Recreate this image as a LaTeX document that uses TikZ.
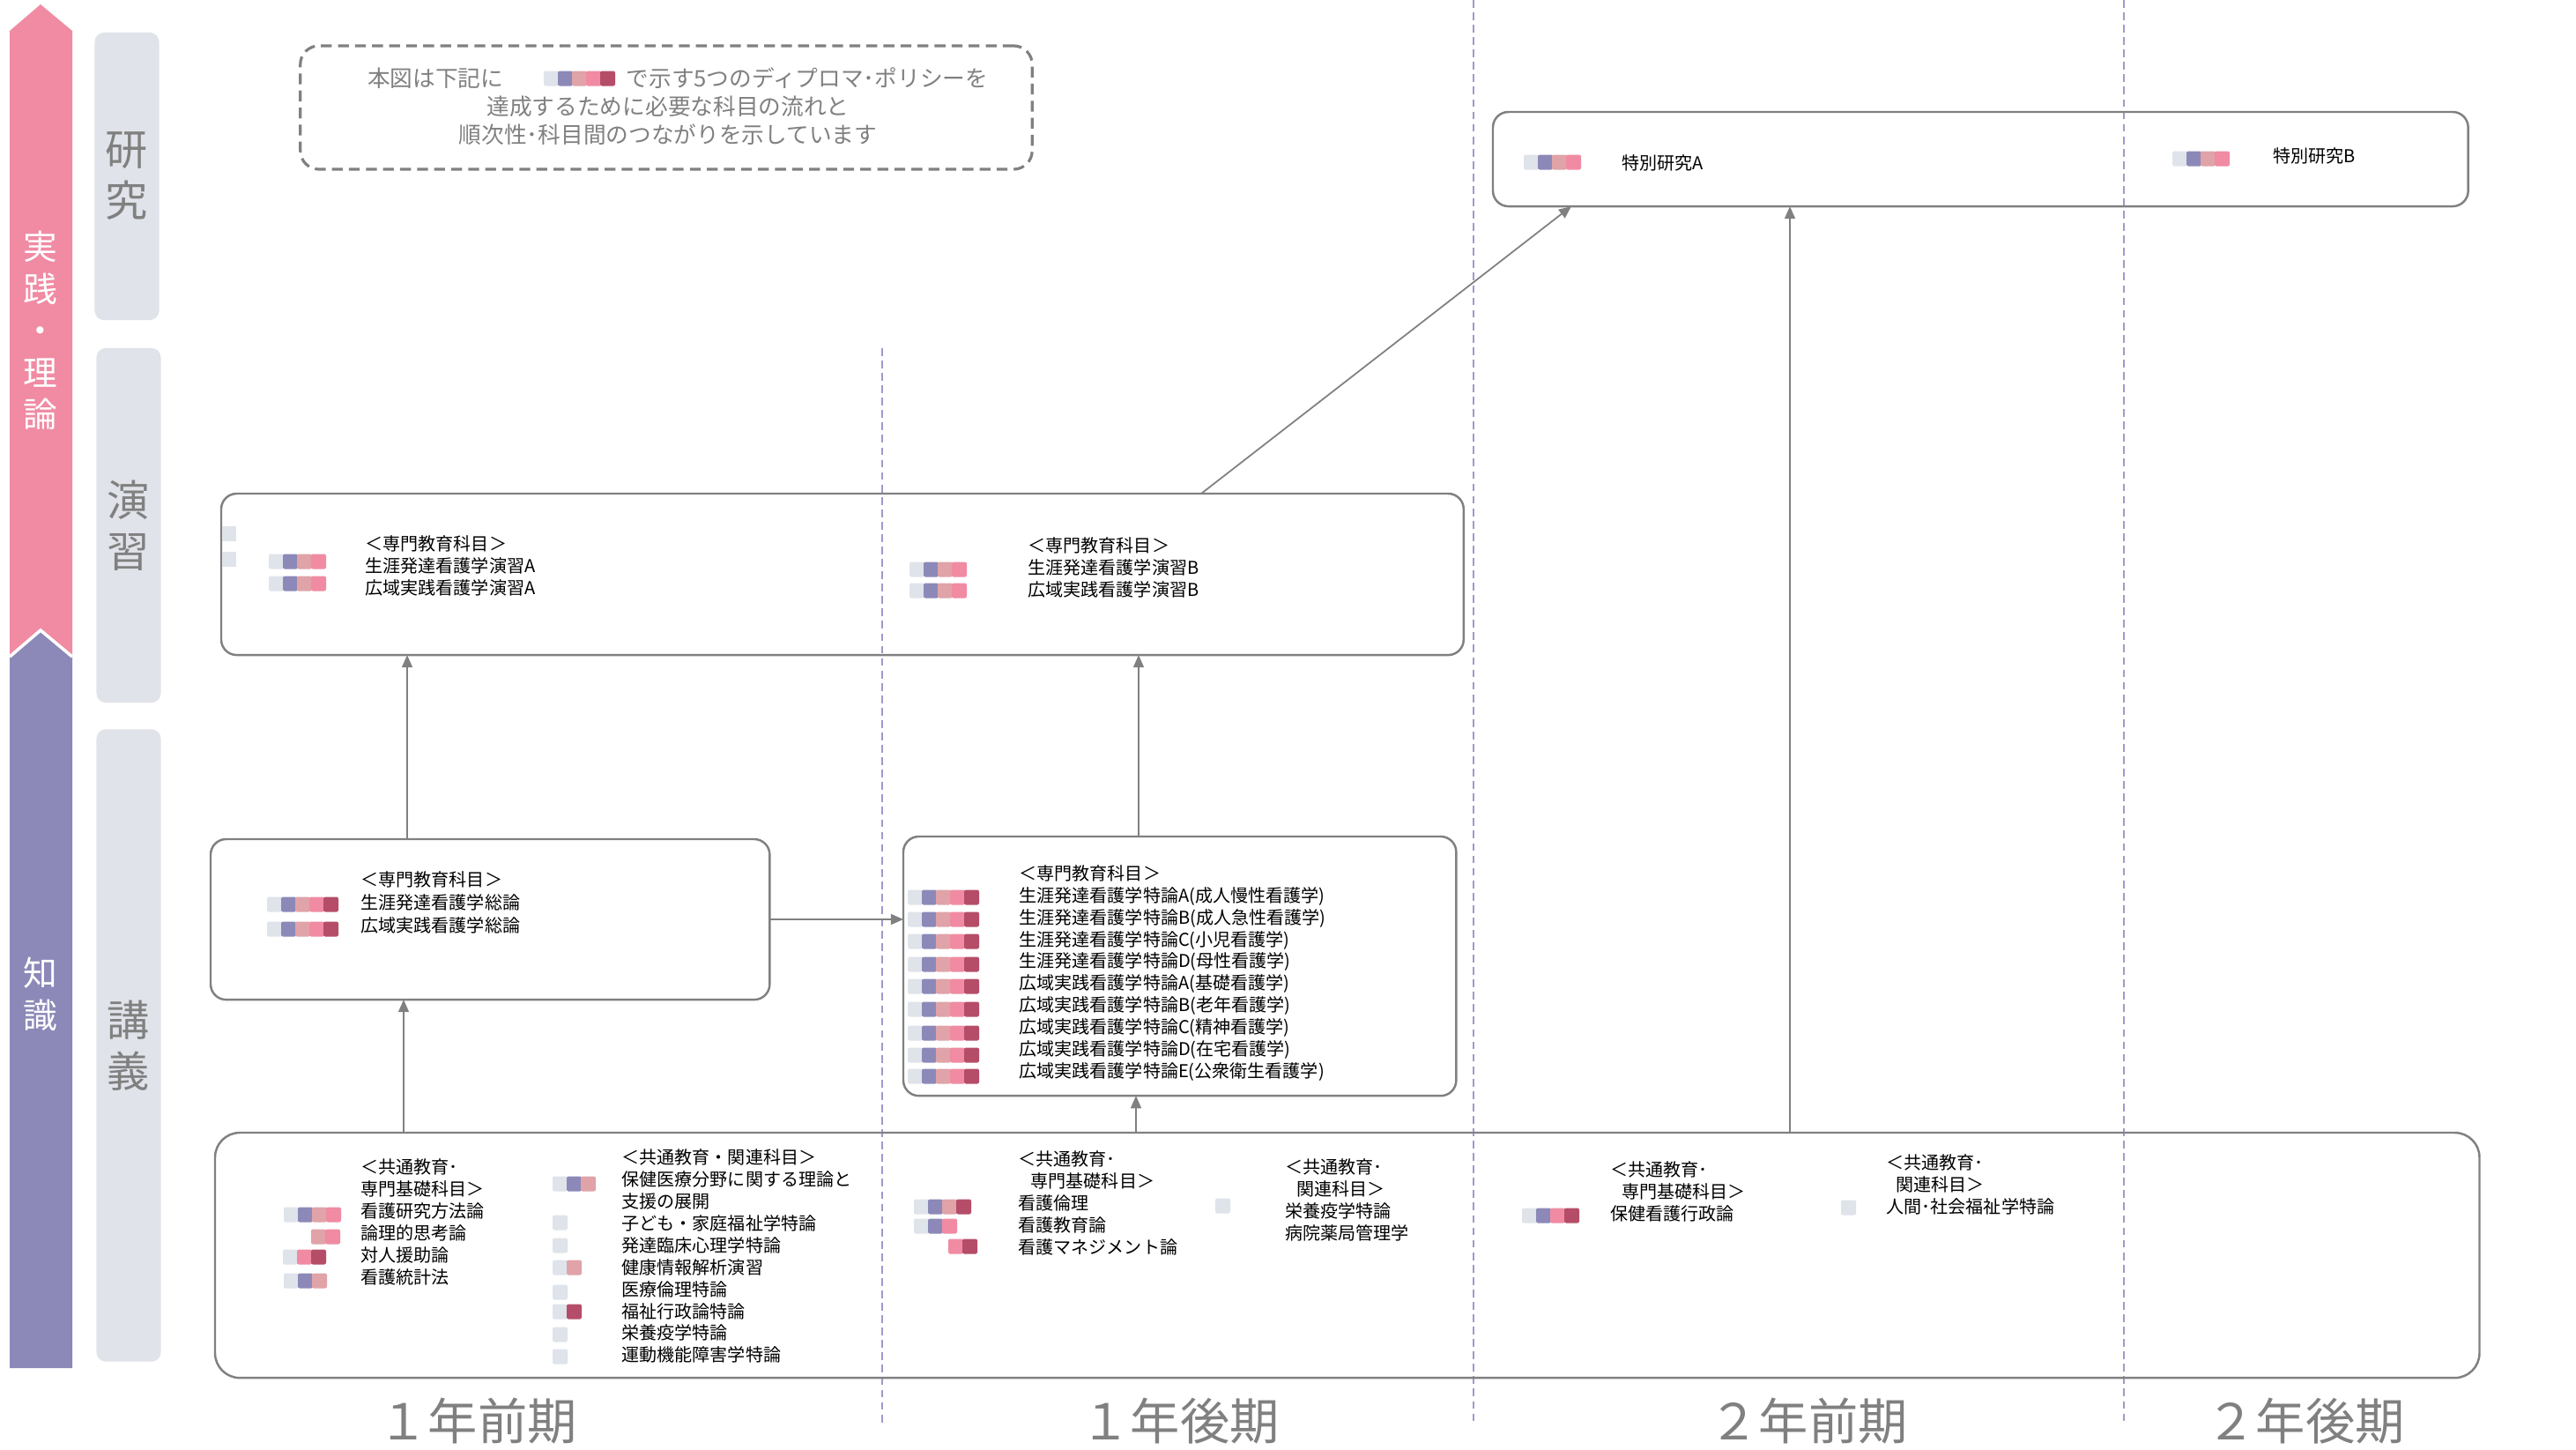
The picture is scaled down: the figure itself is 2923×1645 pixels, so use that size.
\documentclass[tikz,border=0pt]{standalone}
\usepackage{fontspec}
\setmainfont{Noto Sans CJK JP}
\usepackage{tikz}
\usetikzlibrary{arrows.meta}
\usetikzlibrary{positioning}
\definecolor{dpg}{HTML}{DFE3EA}
\definecolor{dpv}{HTML}{8C89B8}
\definecolor{dpr}{HTML}{E0A3A8}
\definecolor{dpp}{HTML}{F08BA3}
\definecolor{dpc}{HTML}{B54D69}
\definecolor{linegray}{HTML}{808080}
\definecolor{labelbg}{HTML}{E0E3E9}
\definecolor{termline}{HTML}{9D9BCB}
\tikzset{course box/.style={draw=linegray,line width=0.7pt,rounded corners=5pt,inner sep=0pt,outer sep=0pt,anchor=north west}}
\tikzset{course text/.style={anchor=west,align=left,inner sep=0pt,font=\fontsize{5.7}{7.1}\selectfont}}
\tikzset{legend text/.style={inner sep=0pt,text=linegray,font=\fontsize{7.3}{9}\selectfont}}
\tikzset{level box/.style={fill=labelbg,rounded corners=3pt,minimum width=0.73cm,inner sep=0pt,text=linegray,align=center,font=\fontsize{13.7}{16.5}\selectfont}}
\tikzset{bar label/.style={text=white,align=center,inner sep=0pt,font=\fontsize{11}{13.5}\selectfont}}
\tikzset{term label/.style={text=linegray,inner sep=0pt,font=\fontsize{16}{19}\selectfont}}
\tikzset{flow/.style={draw=linegray,line width=0.5pt,-{Triangle[length=4pt,width=3.4pt]}}}
\tikzset{term line/.style={draw=termline,line width=0.45pt,dash pattern=on 2.5pt off 1.5pt}}
\newcommand{\dpbar}[3]{\foreach \c [count=\i from 0] in {#3} {\fill[\c,rounded corners=0.6pt] (#1+\i*16,#2-8.5) rectangle ++(17,17);}}

\begin{document}
\begin{tikzpicture}[x=0.01cm,y=-0.01cm]
    \useasboundingbox (0,0) rectangle (2923,1645);
    \fill[white] (0,0) rectangle (2923,1645);

    % left arrows
    \fill[dpp] (46,5) -- (82,35) -- (82,745) -- (46,715) -- (11,745) -- (11,35) -- cycle;
    \fill[dpv] (11,745) -- (46,715) -- (82,745) -- (82,1552) -- (11,1552) -- cycle;
    \draw[white,line width=1pt] (11,745) -- (46,715) -- (82,745);
    \node[bar label] (theory) at (46,375) {実\\践\\・\\理\\論};
    \node[bar label] (knowledge) at (46,1128) {知\\識};

    % levels
    \node[level box,minimum height=3.26cm] (research) at (144,200) {研\\究};
    \node[level box,minimum height=4.02cm] (practice) at (146,596) {演\\習};
    \node[level box,minimum height=7.17cm] (lecture) at (146,1186) {講\\義};

    % terms
    \draw[term line] (1001,395) -- (1001,1615);
    \draw[term line] (1672,0) -- (1672,1617);
    \draw[term line] (2410,0) -- (2410,1612);
    \node[term label] (t1) at (542,1612) {１年前期};
    \node[term label] (t2) at (1339,1612) {１年後期};
    \node[term label] (t3) at (2052,1612) {２年前期};
    \node[term label] (t4) at (2616,1612) {２年後期};

    % legend
    \node[draw=linegray,line width=0.9pt,dash pattern=on 3.5pt off 2pt,rounded corners=6pt,minimum width=8.3cm,minimum height=1.4cm] (legend) at (756,122) {};
    \node[legend text,anchor=east] (legA) at (572,89) {本図は下記に};
    \dpbar{617}{89}{dpg,dpv,dpr,dpp,dpc}
    \node[legend text,anchor=west] (legB) at (710,89) {で示す5つのディプロマ･ポリシーを};
    \node[legend text,align=center] (legC) at (758,137) {達成するために必要な科目の流れと\\順次性･科目間のつながりを示しています};

    % boxes
    \node[course box,minimum width=11.06cm,minimum height=1.07cm] (res) at (1694,127) {};
    \node[course box,minimum width=14.09cm,minimum height=1.83cm] (prac) at (251,560) {};
    \node[course box,minimum width=6.34cm,minimum height=1.82cm] (lecL) at (239,952) {};
    \node[course box,minimum width=6.27cm,minimum height=2.94cm] (lecR) at (1025,949) {};
    \node[course box,rounded corners=8pt,minimum width=25.68cm,minimum height=2.78cm] (base) at (244,1285) {};

    % research
    \dpbar{1729}{184}{dpg,dpv,dpr,dpp}
    \node[course text] (resA) at (1840,185) {特別研究A};
    \dpbar{2465}{180}{dpg,dpv,dpr,dpp}
    \node[course text] (resB) at (2579,177) {特別研究B};

    % practice
    \fill[dpg] (252,597) rectangle (268,614);
    \fill[dpg] (252,626) rectangle (268,643);
    \dpbar{305}{637}{dpg,dpv,dpr,dpp}
    \dpbar{305}{662}{dpg,dpv,dpr,dpp}
    \node[course text] (pracA) at (414,642) {＜専門教育科目＞\\生涯発達看護学演習A\\広域実践看護学演習A};
    \dpbar{1032}{646}{dpg,dpv,dpr,dpp}
    \dpbar{1032}{670}{dpg,dpv,dpr,dpp}
    \node[course text] (pracB) at (1166,644) {＜専門教育科目＞\\生涯発達看護学演習B\\広域実践看護学演習B};

    % lectures
    \dpbar{303}{1026}{dpg,dpv,dpr,dpp,dpc}
    \dpbar{303}{1054}{dpg,dpv,dpr,dpp,dpc}
    \node[course text,font=\fontsize{5.7}{7.5}\selectfont] (lecA) at (409,1024) {＜専門教育科目＞\\生涯発達看護学総論\\広域実践看護学総論};
    \foreach \y in {1018,1043,1068,1094,1119,1145,1172,1197,1221} {\dpbar{1030}{\y}{dpg,dpv,dpr,dpp,dpc}}
    \node[course text] (lecB) at (1156,1104) {＜専門教育科目＞\\生涯発達看護学特論A(成人慢性看護学)\\生涯発達看護学特論B(成人急性看護学)\\生涯発達看護学特論C(小児看護学)\\生涯発達看護学特論D(母性看護学)\\広域実践看護学特論A(基礎看護学)\\広域実践看護学特論B(老年看護学)\\広域実践看護学特論C(精神看護学)\\広域実践看護学特論D(在宅看護学)\\広域実践看護学特論E(公衆衛生看護学)};

    % common subjects
    \dpbar{322}{1378}{dpg,dpv,dpr,dpp}
    \dpbar{353}{1403}{dpr,dpp}
    \dpbar{321}{1426}{dpg,dpp,dpc}
    \dpbar{322}{1453}{dpg,dpv,dpr}
    \node[course text] (com1) at (409,1386) {＜共通教育･\\専門基礎科目＞\\看護研究方法論\\論理的思考論\\対人援助論\\看護統計法};
    \dpbar{627}{1343}{dpg,dpv,dpr}
    \dpbar{627}{1438}{dpg,dpr}
    \dpbar{627}{1488}{dpg,dpc}
    \foreach \y in {1387,1413,1466,1514,1539} {\dpbar{627}{\y}{dpg}}
    \node[course text] (com2) at (705,1425) {＜共通教育・関連科目＞\\保健医療分野に関する理論と\\支援の展開\\子ども・家庭福祉学特論\\発達臨床心理学特論\\健康情報解析演習\\医療倫理特論\\福祉行政論特論\\栄養疫学特論\\運動機能障害学特論};
    \dpbar{1037}{1369}{dpg,dpv,dpr,dpc}
    \dpbar{1037}{1391}{dpg,dpv,dpp}
    \dpbar{1076}{1414}{dpp,dpc}
    \node[course text] (com3) at (1155,1365) {＜共通教育･\\\hspace*{4pt}専門基礎科目＞\\看護倫理\\看護教育論\\看護マネジメント論};
    \dpbar{1379}{1368}{dpg}
    \node[course text] (com4) at (1458,1361) {＜共通教育･\\\hspace*{3.5pt}関連科目＞\\栄養疫学特論\\病院薬局管理学};
    \dpbar{1727}{1379}{dpg,dpv,dpp,dpc}
    \node[course text] (com5) at (1827,1352) {＜共通教育･\\\hspace*{3.5pt}専門基礎科目＞\\保健看護行政論};
    \dpbar{2089}{1370}{dpg}
    \node[course text] (com6) at (2140,1344) {＜共通教育･\\\hspace*{3pt}関連科目＞\\人間･社会福祉学特論};

    % flows
    \draw[flow] (458,0 |- base.north) -- (458,0 |- lecL.south);
    \draw[flow] (462,0 |- lecL.north) -- (462,0 |- prac.south);
    \draw[flow] (lecL.east |- 0,1043) -- (lecR.west |- 0,1043);
    \draw[flow] (1289,0 |- base.north) -- (1289,0 |- lecR.south);
    \draw[flow] (1292,0 |- lecR.north) -- (1292,0 |- prac.south);
    \draw[flow] (1363,0 |- prac.north) -- (1783,0 |- res.south);
    \draw[flow] (2031,0 |- base.north) -- (2031,0 |- res.south);
\end{tikzpicture}
\end{document}
